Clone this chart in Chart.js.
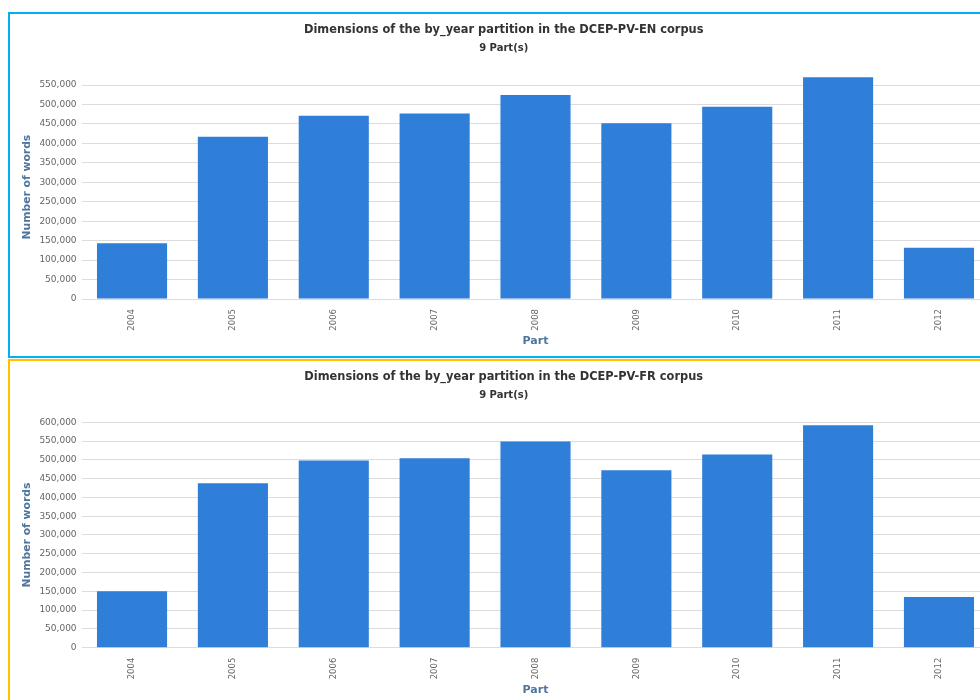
<!DOCTYPE html>
<html>
<head>
<meta charset="utf-8">
<script src="https://cdn.jsdelivr.net/npm/chart.js"></script>
<style>
  html, body { margin: 0; padding: 0; background: #fff; overflow: hidden; }
  .box { position: absolute; left: 8px; width: 1000px; border: 2px solid; }
  #box-en { top: 12px; height: 342px; border-color: #00b0f0; }
  #box-fr { top: 359px; height: 360px; border-color: #ffc000; }
  canvas { display: block; }
</style>
</head>
<body>
<div class="box" id="box-en"><canvas id="chart-en" width="990" height="342"></canvas></div>
<div class="box" id="box-fr"><canvas id="chart-fr" width="990" height="339"></canvas></div>
<script>
// ── Data ──────────────────────────────────────────────────
const parts   = ['2004', '2005', '2006', '2007', '2008', '2009', '2010', '2011', '2012'];
const enWords = [143000, 417000, 471000, 477000, 524000, 452000, 494000, 570000, 132000];
const frWords = [150000, 438000, 498000, 504000, 549000, 472000, 514000, 592000, 135000];
const enTitle = 'Dimensions of the by_year partition in the DCEP-PV-EN corpus';
const frTitle = 'Dimensions of the by_year partition in the DCEP-PV-FR corpus';
const subTitle = '9 Part(s)';
const tickStep = 50000;

Chart.defaults.font.family = '"DejaVu Sans", Verdana, sans-serif';
Chart.defaults.animation = false;

// ── One bar chart per corpus ──────────────────────────────
function buildChart(id, title, values, yMax, padBottom) {
  new Chart(document.getElementById(id).getContext('2d'), {
    type: 'bar',
    data: {
      labels: parts,
      datasets: [{
        label: 'Number of words',
        data: values,
        backgroundColor: '#2f7ed8',
        categoryPercentage: 1, barPercentage: 0.695
      }]
    },
    options: {
      responsive: false,
      layout: { padding: { left: 8, right: 10.6, top: 0, bottom: padBottom } },
      plugins: {
        legend: { display: false },
        tooltip: { enabled: false },
        title: {
          display: true, text: title, color: '#333',
          font: { size: 11.4, weight: 'bold' }, padding: { top: 9.2, bottom: 2 }
        },
        subtitle: {
          display: true, text: subTitle, color: '#333',
          font: { size: 10, weight: 'bold' }, padding: { top: 3.1, bottom: 21.3 }
        }
      },
      scales: {
        x: {
          grid: { display: false },
          border: { display: false },
          ticks: { color: '#666', font: { size: 8.5 }, minRotation: 90, maxRotation: 90, padding: 2 },
          title: { display: true, text: 'Part', color: '#4d759e', font: { size: 11, weight: 'bold' }, padding: { top: 0, bottom: 0 } },
          afterFit: s => { s.height = 49; }
        },
        y: {
          min: 0, max: yMax,
          border: { display: false },
          grid: { color: '#dcdcdc', drawTicks: false },
          ticks: {
            color: '#666', font: { size: 9 }, padding: 5,
            callback: v => v.toLocaleString('en-US')
          },
          title: { display: true, text: 'Number of words', color: '#4d759e', font: { size: 10.8, weight: 'bold' }, padding: { top: 3, bottom: 0 } },
          // gridlines every 50,000 up to the axis max
          afterBuildTicks: s => {
            const ticks = [];
            for (let v = 0; v <= yMax; v += tickStep) ticks.push({ value: v });
            s.ticks = ticks;
          },
          afterFit: s => { s.width = 63.6; }
        }
      }
    }
  });
}

buildChart('chart-en', enTitle, enWords, 575000, 8);
buildChart('chart-fr', frTitle, frWords, 600000, 3.3);
</script>
</body>
</html>
